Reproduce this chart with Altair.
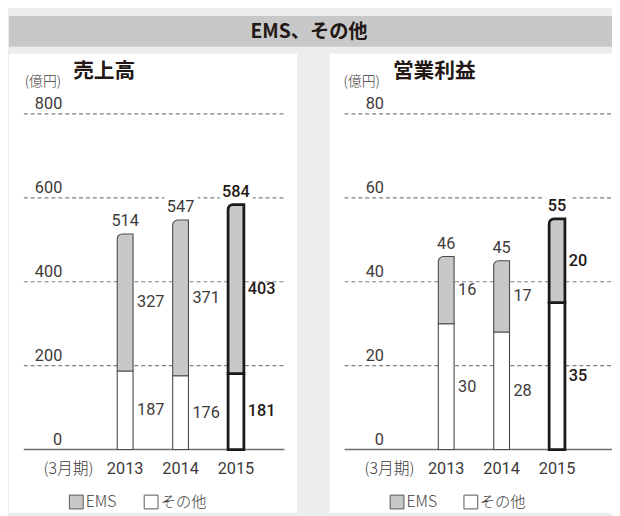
import altair as alt
import pandas as pd

# ---------------- data ----------------
years = ["2013", "2014", "2015"]
sales_other = [187, 176, 181]
sales_ems = [327, 371, 403]
sales_total = [514, 547, 584]
profit_other = [30, 28, 35]
profit_ems = [16, 17, 20]
profit_total = [46, 45, 55]
sales_ticks = [0, 200, 400, 600, 800]
profit_ticks = [0, 20, 40, 60, 80]
series_names = ["EMS", "その他"]
main_title = "EMS、その他"
panel_titles = ["売上高", "営業利益"]
unit_label = "(億円)"
period_label = "(3月期)"

# ---------------- style ----------------
W, H = 612, 508
BG = "#eceeed"
HEADER = "#c8c8c8"
EMS_FILL = "#c8c8c8"
INK = "#231815"
SOFT = "#3e3a39"
GRID = "#808080"
JP = "Noto Sans CJK JP"
NUM = "Roboto"


def one():
    return alt.Chart(pd.DataFrame({"k": [0]}))


def rect(x, x2, y, y2, color):
    return one().mark_rect(color=color).encode(
        x=alt.value(x), x2=alt.value(x2), y=alt.value(y), y2=alt.value(y2)
    )


def label(text, x, y, size, weight="normal", align="left", font=JP, color=INK):
    return alt.Chart(pd.DataFrame({"t": [text]})).mark_text(
        align=align, baseline="middle", fontSize=size, fontWeight=weight,
        font=font, color=color
    ).encode(x=alt.value(x), y=alt.value(y), text="t:N")


def square(x, y, fill):
    return one().mark_square(size=196, fill=fill, stroke="#555555",
                             strokeWidth=1, fillOpacity=1, opacity=1).encode(
        x=alt.value(x), y=alt.value(y))


def panel(other, ems, total, ticks, xr, grid_x, tick_x, title, title_x,
          unit_x, period_x, leg):
    df = pd.DataFrame({"year": years, "other": other, "ems": ems, "total": total})
    tdf = pd.DataFrame({"tick": ticks})
    xs = alt.Scale(type="point", domain=years, range=xr, padding=0)
    ys = alt.Scale(domain=[ticks[0], ticks[-1]], range=[444, 104], nice=False, zero=True)
    X = alt.X("year:O", scale=xs, axis=None)

    def Y(f):
        return alt.Y(f, scale=ys, axis=None)

    grid = alt.Chart(tdf).transform_filter("datum.tick > 0").mark_rule(
        color=GRID, strokeDash=[4, 3], strokeWidth=1.2
    ).encode(y=Y("tick:Q"), x=alt.value(grid_x[0]), x2=alt.value(grid_x[1]))
    base = alt.Chart(tdf).transform_filter("datum.tick == 0").mark_rule(
        color="#6f6f6f", strokeWidth=1.3
    ).encode(y=Y("tick:Q"), x=alt.value(grid_x[0]), x2=alt.value(grid_x[1]))
    ticklab = alt.Chart(tdf).mark_text(
        align="right", baseline="alphabetic", dy=-5, fontSize=16.5, font=NUM,
        fontWeight=400, color=SOFT
    ).encode(y=Y("tick:Q"), x=alt.value(tick_x), text="tick:Q")

    is15 = "datum.year == '2015'"
    bc = alt.Chart(df).transform_calculate(
        base="0",
        mid_e="(datum.other + datum.total) / 2",
        mid_o="datum.other / 2",
    )
    sw = alt.condition(is15, alt.value(2.8), alt.value(1.1))
    sc = alt.condition(is15, alt.value("#1a1a1a"), alt.value("#4a4a4a"))
    bar_other = bc.mark_bar(width=16, fill="white").encode(
        x=X, y=Y("other:Q"), y2="base:Q", stroke=sc, strokeWidth=sw)
    bar_ems = bc.mark_bar(width=16, fill=EMS_FILL, cornerRadiusTopLeft=5).encode(
        x=X, y=Y("total:Q"), y2="other:Q", stroke=sc, strokeWidth=sw)

    halo = bc.mark_text(dy=-8, baseline="alphabetic", fontSize=16.5, font=NUM,
                        fontWeight="bold", stroke="white", strokeWidth=9,
                        strokeJoin="round", fill="white").encode(
        x=X, y=Y("total:Q"), text="total:Q")

    layers = [grid, base, ticklab, bar_other, bar_ems, halo]
    for flt, wt, col in [("datum.year != '2015'", 400, SOFT), (is15, 500, INK)]:
        b = bc.transform_filter(flt)
        layers.append(b.mark_text(dy=-8, baseline="alphabetic", fontSize=16.5, font=NUM,
                                  fontWeight=wt, color=col).encode(
            x=X, y=Y("total:Q"), text="total:Q"))
        layers.append(b.mark_text(dx=12, align="left", baseline="middle", fontSize=16.5,
                                  font=NUM, fontWeight=wt, color=col).encode(
            x=X, y=Y("mid_e:Q"), text="ems:Q"))
        layers.append(b.mark_text(dx=12, align="left", baseline="middle", fontSize=16.5,
                                  font=NUM, fontWeight=wt, color=col).encode(
            x=X, y=Y("mid_o:Q"), text="other:Q"))
    layers.append(bc.mark_text(baseline="middle", fontSize=16.5, font=NUM,
                               fontWeight=400, color=SOFT).encode(
        x=X, y=alt.value(463.7), text="year:N"))

    layers += [
        label(unit_label, unit_x, 72, 14, weight=300, color=SOFT),
        label(title, title_x, 62, 21, weight="bold"),
        label(period_label, period_x, 463.7, 16, weight=300, color=SOFT),
        square(leg[0], 497.2, EMS_FILL),
        label(series_names[0], leg[1], 497.2, 16, weight=300, color=SOFT),
        square(leg[2], 497.2, "white"),
        label(series_names[1], leg[3], 497.2, 15.5, weight=300, color=SOFT),
    ]
    return alt.layer(*layers)


left = panel(sales_other, sales_ems, sales_total, sales_ticks,
             xr=[118.7, 231], grid_x=(16, 280), tick_x=55,
             title=panel_titles[0], title_x=66, unit_x=17, period_x=36,
             leg=(69.2, 78.7, 145, 154.7))
right = panel(profit_other, profit_ems, profit_total, profit_ticks,
              xr=[444, 556.3], grid_x=(341, 612), tick_x=381,
              title=panel_titles[1], title_x=390, unit_x=340, period_x=361.3,
              leg=(394.2, 403.7, 469, 478))

chart = alt.layer(
    rect(1, 612, 4.7, 36, HEADER),
    rect(1, 293, 43, 508, "white"),
    rect(326, 612, 43, 508, "white"),
    label(main_title, 305, 21, 19.5, weight="bold", align="center"),
    left,
    right,
).resolve_scale(x="independent", y="independent").properties(
    width=W, height=H, background=BG, padding=0,
    autosize=alt.AutoSizeParams(type="none"),
).configure_view(stroke=None)

chart.save("out.html", embed_options={"renderer": "svg", "actions": False})
